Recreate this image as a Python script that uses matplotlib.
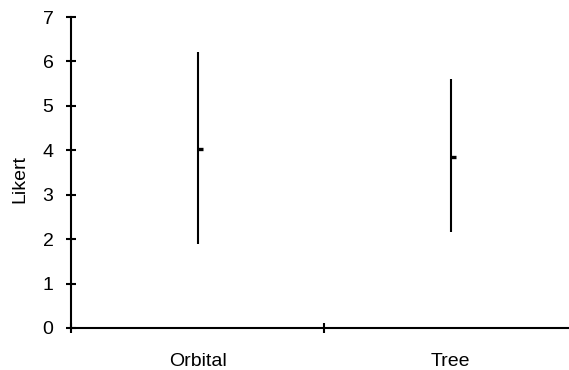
import matplotlib
matplotlib.use("Agg")
import matplotlib.pyplot as plt
import numpy as np

# ---- data ----
categories = ["Orbital", "Tree"]
high_vals = [6.22, 5.60]
low_vals = [1.88, 2.15]
close_vals = [4.04, 3.86]
y_ticks = [0, 1, 2, 3, 4, 5, 6, 7]

plt.rcParams["font.family"] = ["Liberation Sans", "DejaVu Sans"]
plt.rcParams["font.size"] = 14

fig = plt.figure(figsize=(5.69, 3.70), dpi=100)
# plot area runs off the right edge like the original
ax = fig.add_axes([71 / 569, 1 - 328 / 370, (577 - 71) / 569, (328 - 17) / 370])

x = np.arange(len(categories)) + 0.5
ax.vlines(x, low_vals, high_vals, colors="black", linewidth=1.5)
ax.plot(x, close_vals, linestyle="none", marker=1, markersize=3.4,
        markeredgewidth=2.4, color="black")

ax.set_xlim(0, len(categories))
ax.set_ylim(0, 7)
ax.set_yticks(y_ticks)
ax.set_xticks(np.arange(len(categories) + 1))
ax.set_xticklabels([])
ax.set_xticks(x, minor=True)
ax.set_xticklabels(categories, minor=True)

ax.tick_params(axis="y", direction="inout", length=7.2, width=1.5, pad=9)
ax.tick_params(axis="x", which="major", direction="inout", length=7.2, width=1.5)
ax.tick_params(axis="x", which="minor", length=0, pad=18)

for side in ["top", "right"]:
    ax.spines[side].set_visible(False)
for side in ["left", "bottom"]:
    ax.spines[side].set_linewidth(1.5)
    ax.spines[side].set_color("black")
ax.spines["bottom"].set_bounds(0, len(categories))

ax.set_ylabel("Likert", va="center")
ax.yaxis.set_label_coords((20 - 71) / 506, (328 - 179) / 311)

fig.savefig("out.png", dpi=100)
